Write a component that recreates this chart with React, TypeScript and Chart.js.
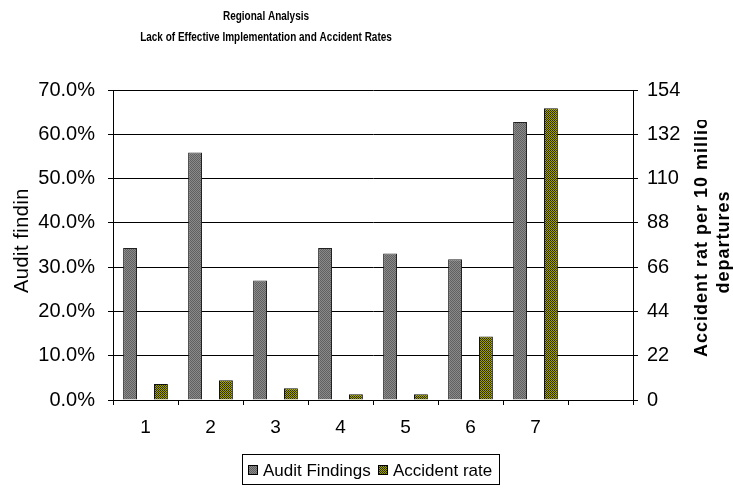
import React, { useEffect, useRef } from "react";
import { Chart, registerables } from "chart.js";

Chart.register(...registerables);

const categories = ["1", "2", "3", "4", "5", "6", "7", ""];
const auditFindings = [34.3, 55.9, 27.0, 34.3, 33.1, 31.8, 62.8, null];
const accidentRate = [7.9, 9.8, 5.8, 2.8, 2.8, 31.6, 144.9, null];
const leftTicksMax = 70;
const leftStep = 10;
const rightTicksMax = 154;
const rightStep = 22;
const titleLines = ["Regional Analysis", "Lack of Effective Implementation and Accident Rates"];
const leftTitle = "Audit findings";
const rightTitleLines = ["Accident rat per 10 million", "departures"];
const seriesNames = ["Audit Findings", "Accident rate"];

function makePattern(a: string, b: string): CanvasPattern | string {
  const c = document.createElement("canvas");
  c.width = 2;
  c.height = 2;
  const g = c.getContext("2d");
  if (!g) return a;
  g.fillStyle = a;
  g.fillRect(0, 0, 2, 2);
  g.fillStyle = b;
  g.fillRect(0, 0, 1, 1);
  g.fillRect(1, 1, 1, 1);
  const p = g.createPattern(c, "repeat");
  return p || a;
}

export default function App() {
  const ref = useRef<HTMLCanvasElement | null>(null);
  useEffect(() => {
    const canvas = ref.current;
    if (!canvas) return;
    const grayFill = makePattern("#8a8a8a", "#606060");
    const oliveFill = makePattern("#a3a300", "#2e2e00");
    const FONT = "'Liberation Sans', Arial, sans-serif";

    const textPlugin = {
      id: "texts",
      beforeDraw(chart: any) {
        const ctx = chart.ctx;
        ctx.save();
        ctx.fillStyle = "#fff";
        ctx.fillRect(0, 0, chart.width, chart.height);
        ctx.restore();
      },
      afterDraw(chart: any) {
        const ctx = chart.ctx;
        // main title (condensed bold)
        ctx.save();
        ctx.fillStyle = "#000";
        ctx.font = "bold 12.5px " + FONT;
        ctx.textAlign = "center";
        ctx.textBaseline = "alphabetic";
        const cx = 266;
        [19.5, 40.5].forEach((y, i) => {
          ctx.save();
          ctx.translate(cx, y);
          ctx.scale(0.8, 1);
          ctx.fillText(titleLines[i], 0, 0);
          ctx.restore();
        });
        ctx.restore();

        // left axis title, clipped
        ctx.save();
        ctx.beginPath();
        ctx.rect(0, 188, 34, 300);
        ctx.clip();
        ctx.translate(28, 293);
        ctx.rotate(-Math.PI / 2);
        ctx.font = "20px " + FONT;
        (ctx as any).letterSpacing = "0.5px";
        ctx.fillStyle = "#000";
        ctx.textAlign = "left";
        ctx.textBaseline = "alphabetic";
        ctx.fillText(leftTitle, 0, 0);
        ctx.restore();

        // right axis title, clipped
        ctx.save();
        ctx.beginPath();
        ctx.rect(640, 120, 93, 370);
        ctx.clip();
        ctx.font = "bold 18px " + FONT;
        (ctx as any).letterSpacing = "1px";
        ctx.fillStyle = "#000";
        ctx.textBaseline = "alphabetic";
        ctx.save();
        ctx.translate(707, 357);
        ctx.rotate(-Math.PI / 2);
        ctx.textAlign = "left";
        ctx.fillText(rightTitleLines[0], 0, 0);
        ctx.restore();
        ctx.save();
        ctx.translate(729, 242);
        ctx.rotate(-Math.PI / 2);
        ctx.textAlign = "center";
        ctx.fillText(rightTitleLines[1], 0, 0);
        ctx.restore();
        ctx.restore();

        // legend
        ctx.save();
        ctx.strokeStyle = "#000";
        ctx.lineWidth = 1;
        ctx.strokeRect(242.5, 454.5, 257, 30);
        ctx.font = "17px " + FONT;
        ctx.textBaseline = "middle";
        ctx.textAlign = "left";
        const items = [
          { x: 248, fill: grayFill, label: seriesNames[0] },
          { x: 378, fill: oliveFill, label: seriesNames[1] },
        ];
        items.forEach((it) => {
          ctx.fillStyle = it.fill as any;
          ctx.fillRect(it.x, 465, 10, 10);
          ctx.strokeStyle = "#000";
          ctx.strokeRect(it.x + 0.5, 465.5, 9, 9);
          ctx.fillStyle = "#000";
          ctx.fillText(it.label, it.x + 15, 471);
        });
        ctx.restore();
      },
    };

    const chart = new Chart(canvas, {
      type: "bar",
      data: {
        labels: categories,
        datasets: [
          {
            label: seriesNames[0],
            data: auditFindings as any,
            yAxisID: "y",
            backgroundColor: grayFill as any,
            borderColor: "#222",
            borderWidth: 1,
            categoryPercentage: 0.95,
            barPercentage: 0.45,
          },
          {
            label: seriesNames[1],
            data: accidentRate as any,
            yAxisID: "y1",
            backgroundColor: oliveFill as any,
            borderColor: "#111",
            borderWidth: 1,
            categoryPercentage: 0.95,
            barPercentage: 0.45,
          },
        ],
      },
      options: {
        animation: false,
        responsive: false,
        layout: { padding: { top: 90, left: 0, right: 0, bottom: 0 } },
        plugins: {
          legend: { display: false },
          title: { display: false },
          tooltip: { enabled: false },
        },
        scales: {
          x: {
            offset: true,
            grid: {
              offset: true,
              drawOnChartArea: false,
              drawTicks: true,
              tickLength: 5,
              color: "#000",
            },
            border: { display: true, color: "#000", width: 1 },
            ticks: {
              color: "#000",
              font: { size: 19, family: FONT },
              padding: 11,
              maxRotation: 0,
            },
            afterFit(scale: any) {
              scale.height = 89;
            },
          },
          y: {
            position: "left",
            min: 0,
            max: leftTicksMax,
            grid: {
              color: "#000",
              lineWidth: 1,
              tickLength: 5,
              drawTicks: true,
            },
            border: { display: true, color: "#000", width: 1 },
            ticks: {
              stepSize: leftStep,
              color: "#000",
              font: { size: 20, family: FONT },
              padding: 13,
              callback: (v: any) => Number(v).toFixed(1) + "%",
            },
            afterFit(scale: any) {
              scale.width = 113;
            },
          },
          y1: {
            position: "right",
            min: 0,
            max: rightTicksMax,
            grid: {
              drawOnChartArea: false,
              tickLength: 5,
              color: "#000",
            },
            border: { display: true, color: "#000", width: 1 },
            ticks: {
              stepSize: rightStep,
              color: "#000",
              font: { size: 20, family: FONT },
              padding: 9,
            },
            afterFit(scale: any) {
              scale.width = 100;
            },
          },
        },
      },
      plugins: [textPlugin],
    } as any);
    return () => chart.destroy();
  }, []);

  return (
    <div style={{ position: "fixed", left: 0, top: 0, width: 733, height: 489, background: "#fff" }}>
      <canvas ref={ref} width={733} height={489} style={{ display: "block", width: 733, height: 489 }} />
    </div>
  );
}
